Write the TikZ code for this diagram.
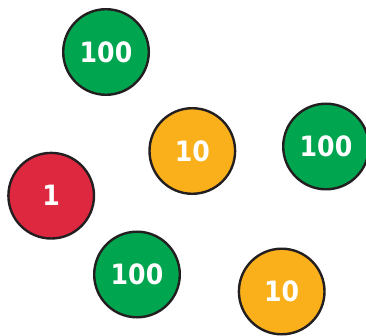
\documentclass[tikz,border=0pt]{standalone}
\usepackage{fontspec}
\newfontfamily\coinfont{DejaVu Sans Condensed}
\definecolor{coingreen}{HTML}{00A54F}
\definecolor{coinorange}{HTML}{F9B01B}
\definecolor{coinred}{HTML}{DE2840}
\definecolor{coinedge}{HTML}{231F20}
\tikzset{
  coin/.style={circle, draw=coinedge, line width=2.4pt, minimum size=85.6pt,
    inner sep=0pt, text=white, font=\coinfont\bfseries\fontsize{28}{30}\selectfont},
  hundred/.style={coin, fill=coingreen},
  ten/.style={coin, fill=coinorange},
  one/.style={coin, fill=coinred}
}
\begin{document}
\begin{tikzpicture}[x=1pt, y=-1pt]
    \useasboundingbox (0,0) rectangle (366,336);

    % 100
    \node[hundred] (h1) at (106,52) {100};
    \node[hundred] (h2) at (326,146.5) {100};
    \node[hundred] (h3) at (137,274.5) {100};

    % 10
    \node[ten] (t1) at (192.3,151) {10};
    \node[ten] (t2) at (281.7,291.5) {10};

    % 1
    \node[one] (o1) at (51.2,195.7) {1};
\end{tikzpicture}
\end{document}
